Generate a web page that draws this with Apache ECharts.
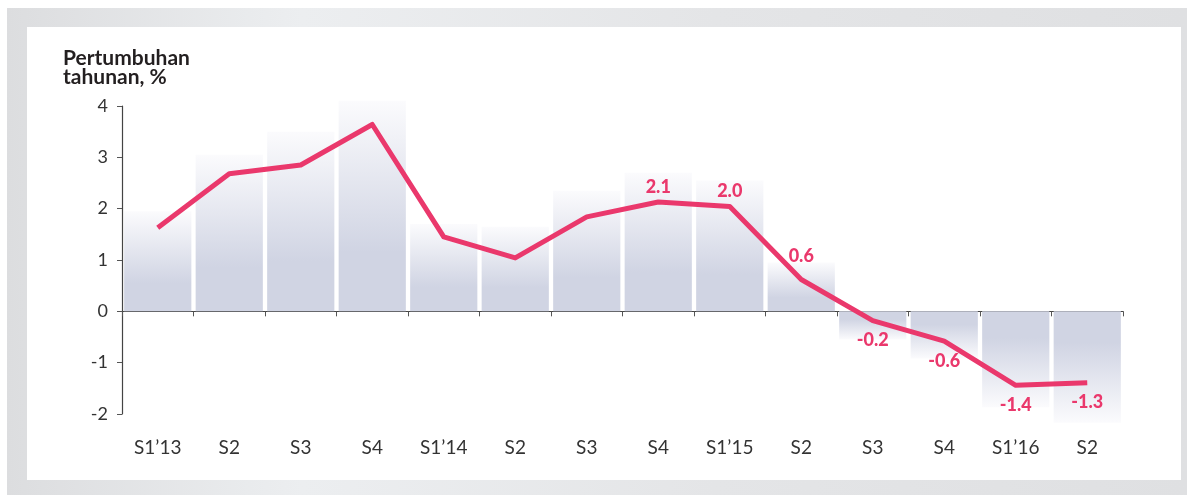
<!DOCTYPE html>
<html>
<head>
<meta charset="utf-8">
<script src="https://cdn.jsdelivr.net/npm/echarts@6/dist/echarts.min.js"></script>
<style>
  html, body { margin: 0; padding: 0; background: #fff; }
  .frame {
    position: absolute; left: 7px; top: 8px; width: 1180px; height: 487px;
    background: linear-gradient(90deg, #dcdddf 0%, #eceef0 25%, #e4e5e7 60%, #dfe0e2 100%);
  }
  .inner {
    position: absolute; left: 27px; top: 27px; width: 1154px; height: 453px;
    background: #fff;
  }
  #chart { position: absolute; left: 0; top: 0; width: 1187px; height: 495px; }
</style>
</head>
<body>
<div class="frame"></div>
<div class="inner"></div>
<div id="chart"></div>
<script>
// kategori semester
const categories = ['S1’13', 'S2', 'S3', 'S4', 'S1’14', 'S2', 'S3', 'S4', 'S1’15', 'S2', 'S3', 'S4', 'S1’16', 'S2'];
// batang latar (abu-abu lavender)
const barValues = [1.95, 3.05, 3.5, 4.1, 1.7, 1.65, 2.35, 2.7, 2.55, 0.95, -0.55, -0.92, -1.87, -2.17];
// garis pertumbuhan tahunan
const lineValues = [1.63, 2.68, 2.85, 3.64, 1.45, 1.04, 1.84, 2.13, 2.04, 0.62, -0.18, -0.58, -1.44, -1.39];
// label pada titik garis
const lineLabels = ['', '', '', '', '', '', '', '2.1', '2.0', '0.6', '-0.2', '-0.6', '-1.4', '-1.3'];
const yTicks = [-2, -1, 0, 1, 2, 3, 4];

const pink = '#ea386c';
const lavender = '#d0d4e3';

function barColor(v) {
  const light = '#fbfbfd';
  const stops = v >= 0
    ? [{ offset: 0, color: light }, { offset: 0.72, color: lavender }, { offset: 1, color: lavender }]
    : [{ offset: 0, color: lavender }, { offset: 0.28, color: lavender }, { offset: 1, color: light }];
  return new echarts.graphic.LinearGradient(0, 0, 0, 1, stops);
}

const barData = barValues.map(v => ({ value: v, itemStyle: { color: barColor(v) } }));

const lineData = lineValues.map((v, i) => {
  const txt = lineLabels[i];
  if (!txt) return v;
  return {
    value: v,
    label: {
      show: true,
      position: v >= 0 ? 'top' : 'bottom',
      distance: txt === '0.6' ? 14 : (v >= 0 ? 6 : 11),
      formatter: txt
    }
  };
});

const chart = echarts.init(document.getElementById('chart'));
chart.setOption({
  backgroundColor: 'transparent',
  animation: false,
  title: {
    text: 'Pertumbuhan\ntahunan, %',
    left: 58,
    top: 44,
    textStyle: {
      fontFamily: 'Lato',
      fontWeight: 'bold',
      fontSize: 21,
      lineHeight: 19,
      color: '#231f20'
    }
  },
  grid: { left: 122, right: 64, top: 106, bottom: 81, outerBoundsMode: 'none', containLabel: false },
  xAxis: {
    type: 'category',
    data: categories,
    boundaryGap: true,
    axisLine: { onZero: true, lineStyle: { color: '#444', width: 1.2 } },
    axisTick: { show: true, length: 5, lineStyle: { color: '#555' } },
    axisLabel: {
      interval: 0,
      margin: 24,
      fontFamily: 'Lato',
      fontSize: 19,
      color: '#333'
    },
    splitLine: { show: false }
  },
  yAxis: {
    type: 'value',
    min: yTicks[0],
    max: yTicks[yTicks.length - 1],
    interval: 1,
    axisLine: { show: true, lineStyle: { color: '#444', width: 1.2 } },
    axisTick: { show: true, length: 5, lineStyle: { color: '#555' } },
    axisLabel: {
      margin: 14,
      fontFamily: 'Lato',
      fontSize: 18,
      color: '#333'
    },
    splitLine: { show: false }
  },
  series: [
    {
      name: 'latar',
      type: 'bar',
      barCategoryGap: '6%',
      data: barData,
      clip: false,
      z: 1,
      silent: true
    },
    {
      name: 'pertumbuhan',
      type: 'line',
      data: lineData,
      symbol: 'circle',
      symbolSize: 0,
      showSymbol: true,
      z: 3,
      lineStyle: { color: pink, width: 5, join: 'round' },
      itemStyle: { color: pink },
      label: {
        fontFamily: 'Lato',
        fontWeight: 900,
        fontSize: 18,
        color: pink
      }
    }
  ]
});
</script>
</body>
</html>
